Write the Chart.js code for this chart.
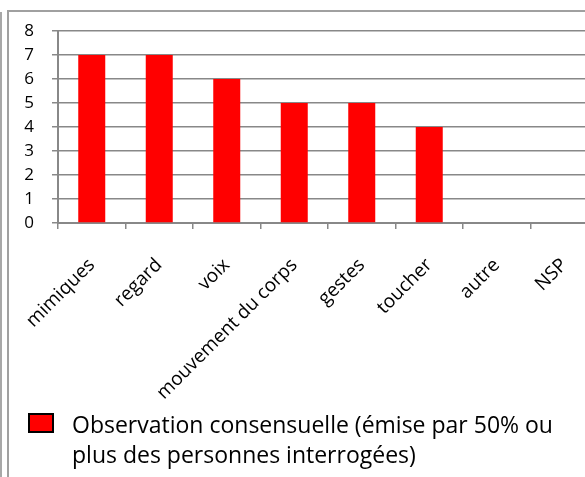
<!DOCTYPE html>
<html>
<head>
    <title>Observation consensuelle</title>
    <script src="https://cdn.jsdelivr.net/npm/chart.js"></script>
    <style>
        html, body { margin: 0; padding: 0; background: #fff; overflow: hidden; }
        body { width: 585px; height: 477px; position: relative; font-family: "Open Sans", sans-serif; }
        .outer { position: absolute; left: 0; top: 12px; width: 2px; height: 465px; background: #a8a8a8; }
        .frame { position: absolute; left: 7px; top: 10px; width: 600px; height: 480px;
                 border-top: 2px solid #a0a0a0; border-left: 2px solid #a0a0a0; }
        #wrap { position: absolute; left: 0; top: 0; width: 600px; height: 430px; }
        .legend { position: absolute; left: 28px; top: 409px; }
        .legend .box { position: absolute; left: 0; top: 4px; width: 22px; height: 16px;
                       border: 2px solid #000; background: #ff0000; }
        .legend .txt { position: absolute; left: 44px; top: 0; width: 540px; white-space: nowrap;
                       font-size: 23px; line-height: 30px; color: #000; }
    </style>
</head>
<body>
<div class="outer"></div>
<div class="frame"></div>
<div id="wrap"><canvas id="barChart" width="600" height="430"></canvas></div>
<div class="legend">
    <div class="box"></div>
    <div class="txt" id="legendText"></div>
</div>

<script>
    const categories = ['mimiques', 'regard', 'voix', 'mouvement du corps', 'gestes', 'toucher', 'autre', 'NSP'];
    const values = [7, 7, 6, 5, 5, 4, 0, 0];
    const yTicks = [0, 1, 2, 3, 4, 5, 6, 7, 8];
    const seriesLabel = ['Observation consensuelle (émise par 50% ou', 'plus des personnes interrogées)'];

    document.getElementById('legendText').innerHTML = seriesLabel.join('<br>');

    const ctx = document.getElementById('barChart').getContext('2d');
    new Chart(ctx, {
        type: 'bar',
        data: {
            labels: categories,
            datasets: [{
                label: seriesLabel.join(' '),
                data: values,
                backgroundColor: '#ff0000',
                borderWidth: 0,
                categoryPercentage: 1,
                barPercentage: 0.4
            }]
        },
        options: {
            responsive: false,
            animation: false,
            layout: { padding: { top: 31, left: 0, right: 2, bottom: 0 } },
            plugins: {
                legend: { display: false },
                tooltip: { enabled: false }
            },
            scales: {
                x: {
                    grid: { offset: true, drawOnChartArea: false, tickLength: 6, color: '#888', lineWidth: 1.5 },
                    border: { color: '#888', width: 2 },
                    ticks: {
                        color: '#000', font: { family: 'Open Sans', size: 19 },
                        minRotation: 45, maxRotation: 45, padding: 25, autoSkip: false
                    },
                    afterFit: (axis) => {
                        axis.height = 207;
                        axis.paddingLeft = 0;
                        axis.paddingRight = 0;
                    }
                },
                y: {
                    min: 0, max: 8,
                    afterBuildTicks: (axis) => { axis.ticks = yTicks.map(v => ({ value: v })); },
                    grid: { tickLength: 6, color: '#888', lineWidth: 1.5 },
                    border: { color: '#888', width: 2 },
                    ticks: { color: '#000', font: { family: 'Open Sans', size: 17 }, padding: 18 },
                    afterFit: (axis) => { axis.width = 58; }
                }
            }
        }
    });
</script>
</body>
</html>
